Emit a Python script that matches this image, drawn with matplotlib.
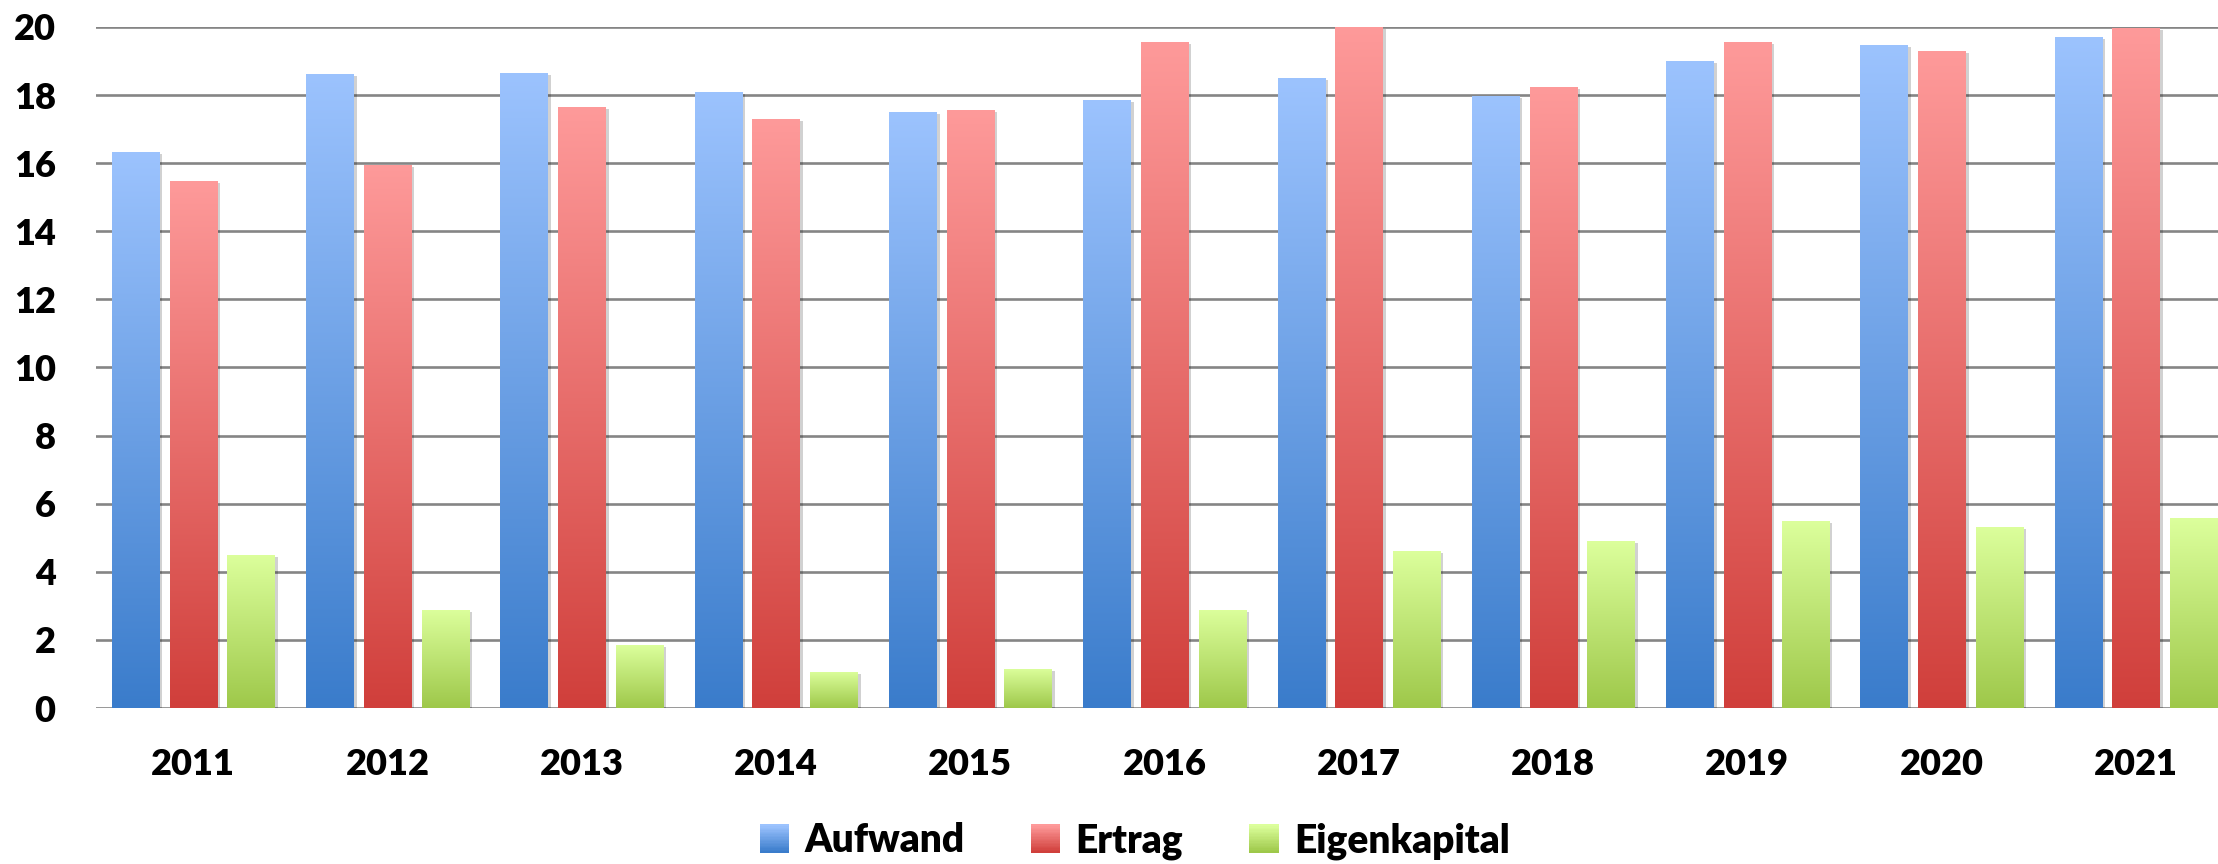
import numpy as np
import matplotlib.pyplot as plt
from matplotlib.colors import LinearSegmentedColormap
from matplotlib.patches import Rectangle
from matplotlib.legend_handler import HandlerBase
import matplotlib.patheffects as pe

years = ['2011', '2012', '2013', '2014', '2015', '2016', '2017', '2018', '2019', '2020', '2021']
aufwand = [16.33, 18.62, 18.65, 18.09, 17.5, 17.86, 18.5, 17.97, 19.0, 19.47, 19.7]
ertrag = [15.48, 15.95, 17.65, 17.3, 17.56, 19.56, 20.0, 18.24, 19.56, 19.3, 19.97]
eigenkapital = [4.5, 2.88, 1.85, 1.06, 1.15, 2.88, 4.61, 4.9, 5.49, 5.32, 5.58]

series_names = ['Aufwand', 'Ertrag', 'Eigenkapital']
# (top colour, bottom colour)
grads = [('#9cc3fe', '#3a7ccb'), ('#fe9a9a', '#d03f3b'), ('#dcff9c', '#9ec84a')]

plt.rcParams['font.family'] = ['Lato', 'DejaVu Sans']
plt.rcParams['font.weight'] = 'heavy'

fig = plt.figure(figsize=(22.18, 8.64), dpi=100)
ax = fig.add_axes([96 / 2218, 156 / 864, 2137 / 2218, 681 / 864])

x = np.arange(len(years))
width = 0.242
offset = 0.297
grad_img = np.linspace(0, 1, 256).reshape(-1, 1)

for k, vals in enumerate([aufwand, ertrag, eigenkapital]):
    top, bottom = grads[k]
    cmap = LinearSegmentedColormap.from_list('g%d' % k, [bottom, top])
    bars = ax.bar(x + (k - 1) * offset, vals, width, color=bottom, zorder=2,
                  linewidth=0)
    for b in bars:
        b.set_path_effects([pe.SimplePatchShadow(offset=(2.5, -1.5), shadow_rgbFace='#000000', alpha=0.18),
                            pe.Normal()])
        x0, y0 = b.get_x(), b.get_y()
        w, h = b.get_width(), b.get_height()
        im = ax.imshow(grad_img, cmap=cmap, extent=[x0, x0 + w, y0, y0 + h],
                       origin='lower', aspect='auto', zorder=3, interpolation='bicubic')
        im.set_clip_path(b)

ax.set_xlim(-0.5, 10.5)
ax.set_ylim(0, 20)
ax.set_yticks(np.arange(0, 21, 2))
ax.set_xticks(x)
ax.set_xticklabels(years)
ax.tick_params(axis='both', length=0, labelsize=26)
ax.tick_params(axis='y', pad=29)
ax.tick_params(axis='x', pad=29)
ax.yaxis.grid(True, color='#858585', linewidth=1.9, zorder=1)
ax.set_axisbelow(True)
for s in ax.spines.values():
    s.set_visible(False)


class GradHandler(HandlerBase):
    def __init__(self, top, bottom):
        super().__init__()
        self.top = top
        self.bottom = bottom

    def create_artists(self, legend, orig_handle, xdescent, ydescent, width, height, fontsize, trans):
        cmap = LinearSegmentedColormap.from_list('lg', [self.bottom, self.top])
        n = 20
        arts = []
        for i in range(n):
            r = Rectangle((-xdescent, -ydescent + height * i / n), width, height / n + 0.3,
                          facecolor=cmap(i / (n - 1)), edgecolor='none', transform=trans)
            arts.append(r)
        return arts


handles = [Rectangle((0, 0), 1, 1) for _ in series_names]
hmap = {h: GradHandler(*grads[i]) for i, h in enumerate(handles)}
ax.legend(handles, series_names, handler_map=hmap, loc='center',
          bbox_to_anchor=(1135 / 2218, 23 / 864), bbox_transform=fig.transFigure,
          ncol=3, frameon=False, fontsize=28, handlelength=0.75, handleheight=0.72,
          handletextpad=0.4, columnspacing=1.7)

fig.savefig('out.png', dpi=100)
